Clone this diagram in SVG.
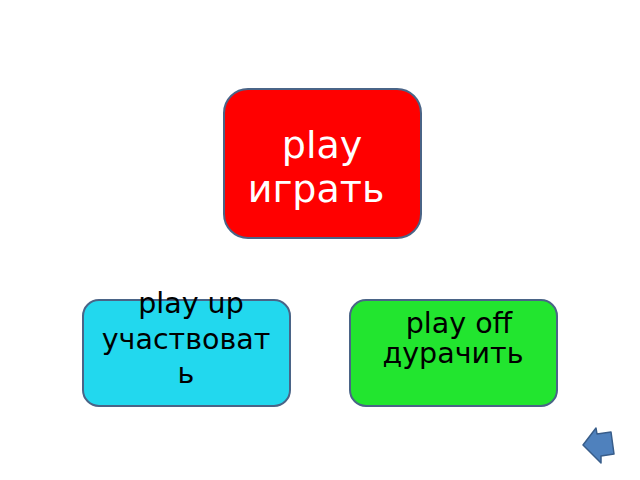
<svg xmlns="http://www.w3.org/2000/svg" width="640" height="480" viewBox="0 0 640 480">
<style>
.box{stroke:#4a6487;stroke-width:2}
.t{font-family:"DejaVu Sans",sans-serif;text-anchor:middle}
.w{fill:#ffffff;font-size:38px}
.k{fill:#000000;font-size:28.5px}
</style>
<rect width="640" height="480" fill="#ffffff"/>
<g id="node-play">
<rect class="box" x="224" y="89" width="197" height="149" rx="24" fill="#ff0000"/>
<text class="t w" x="322" y="158">play</text>
<text class="t w" x="316" y="202">играть</text>
</g>
<g id="node-playup">
<rect class="box" x="83" y="300" width="207" height="106" rx="16" fill="#22d8ee"/>
<text class="t k" x="191" y="313">play up</text>
<text class="t k" x="186" y="349">участвоват</text>
<text class="t k" x="186" y="383">ь</text>
</g>
<g id="node-playoff">
<rect class="box" x="350" y="300" width="207" height="106" rx="16" fill="#22e52f"/>
<text class="t k" x="459" y="333">play off</text>
<text class="t k" x="453" y="363">дурачить</text>
</g>
<g id="connectors"></g>
<g id="back-button">
<polygon points="583,445 596,428 597,434 611,432 614,454 601,456 601,463" fill="#4f81bd" stroke="#385d8a" stroke-width="1.5" stroke-linejoin="round"/>
</g>
</svg>
